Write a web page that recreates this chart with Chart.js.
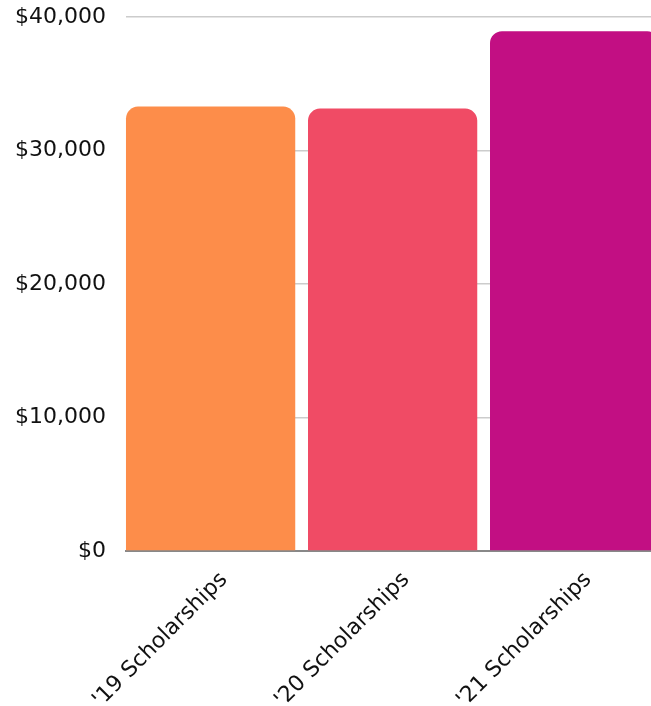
<!DOCTYPE html>
<html>
<head>
<meta charset="utf-8">
<script src="https://cdn.jsdelivr.net/npm/chart.js@4"></script>
<style>
  html, body { margin: 0; padding: 0; background: #fff; overflow: hidden; }
  #wrap { position: relative; top: -16px; left: -5px; width: 680px; height: 737px; }
</style>
</head>
<body>
<div id="wrap"><canvas id="scholarshipChart"></canvas></div>
<script>
// Chart data
const categories = ["'19 Scholarships", "'20 Scholarships", "'21 Scholarships"];
const amounts = [33300, 33150, 38950];
const barColors = ['#fd8d4a', '#f04b65', '#c20f83'];
const yTicks = [0, 10000, 20000, 30000, 40000];

const barPct = 0.93;

Chart.defaults.font.family = "'DejaVu Sans', sans-serif";
Chart.defaults.color = '#111';

// bars sit flush with the left of their category, gap on the right
const leftAlignBars = {
  id: 'leftAlignBars',
  beforeDatasetsDraw(chart) {
    const x = chart.scales.x;
    const step = x.getPixelForValue(1) - x.getPixelForValue(0);
    chart.ctx.save();
    chart.ctx.translate(-step * (1 - barPct) / 2, 0);
  },
  afterDatasetsDraw(chart) {
    chart.ctx.restore();
  }
};

const ctx = document.getElementById('scholarshipChart');
new Chart(ctx, {
  type: 'bar',
  data: {
    labels: categories,
    datasets: [{
      data: amounts,
      backgroundColor: barColors,
      borderRadius: { topLeft: 12, topRight: 12, bottomLeft: 0, bottomRight: 0 },
      borderSkipped: false,
      categoryPercentage: 1,
      barPercentage: barPct
    }]
  },
  options: {
    responsive: true,
    maintainAspectRatio: false,
    animation: false,
    layout: { padding: { top: 0, left: 0, right: 3, bottom: 0 } },
    plugins: {
      legend: { display: false },
      tooltip: { enabled: false }
    },
    scales: {
      y: {
        min: yTicks[0],
        max: yTicks[yTicks.length - 1],
        afterBuildTicks: axis => { axis.ticks = yTicks.map(v => ({ value: v })); },
        border: { display: false },
        grid: { color: '#cccccc', lineWidth: 1.5, drawTicks: false },
        ticks: {
          padding: 20,
          font: { size: 22 },
          callback: v => '$' + v.toLocaleString('en-US')
        }
      },
      x: {
        border: { display: true, color: '#888888', width: 2 },
        grid: { display: false },
        ticks: {
          maxRotation: 45,
          minRotation: 45,
          padding: 8,
          labelOffset: 7,
          font: { size: 22 }
        }
      }
    }
  },
  plugins: [leftAlignBars]
});
</script>
</body>
</html>
